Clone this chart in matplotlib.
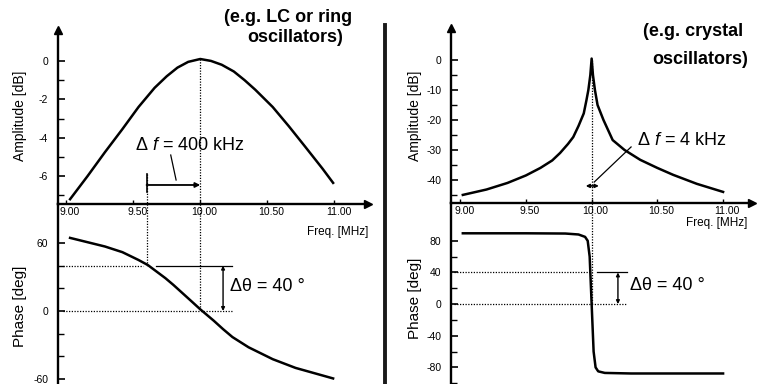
import matplotlib
matplotlib.use('Agg')
import matplotlib.pyplot as plt
from matplotlib.transforms import ScaledTranslation

plt.rcParams['font.family'] = ['Liberation Sans', 'DejaVu Sans']
plt.rcParams['mathtext.fontset'] = 'custom'
plt.rcParams['mathtext.rm'] = 'Liberation Sans'
plt.rcParams['mathtext.it'] = 'Liberation Sans:italic'

# ---------------- data ----------------
freq_ticks = [9.0, 9.5, 10.0, 10.5, 11.0]
freq_tick_labels = ['9.00', '9.50', '10.00', '10.50', '11.00']

# LC / ring oscillator (low Q)
lc_freq = [9.03, 9.16, 9.29, 9.42, 9.54, 9.66, 9.75, 9.83, 9.91, 10.00,
           10.08, 10.16, 10.25, 10.33, 10.41, 10.54, 10.66, 10.78, 10.91, 10.99]
lc_amp = [-7.2, -6.0, -4.75, -3.55, -2.4, -1.4, -0.8, -0.35, -0.05, 0.1,
          0.0, -0.2, -0.55, -1.0, -1.5, -2.4, -3.4, -4.45, -5.6, -6.35]
lc_phase_freq = [9.03, 9.16, 9.29, 9.42, 9.54, 9.61, 9.74, 9.80, 9.87, 9.94,
                 10.00, 10.05, 10.10, 10.17, 10.24, 10.36, 10.54, 10.71, 10.99]
lc_phase = [64.5, 60.7, 56.9, 51.9, 45.0, 40.5, 29.0, 23.0, 15.5, 8.0,
            1.5, -3.5, -8.5, -16.0, -23.0, -32.0, -42.5, -50.2, -59.5]
lc_amp_ticks = [0, -2, -4, -6]
lc_amp_minor = [-1, -3, -5, -7]
lc_phase_ticks = [60, 0, -60]
lc_phase_minor = [40, 20, -20, -40]

# crystal oscillator (high Q)
xt_freq = [9.02, 9.20, 9.36, 9.50, 9.61, 9.70, 9.76, 9.82, 9.86, 9.90,
           9.94, 9.96, 9.975, 9.99, 10.00, 10.01, 10.025, 10.045, 10.09,
           10.16, 10.25, 10.37, 10.50, 10.62, 10.80, 11.00]
xt_amp = [-45.0, -43.2, -41.0, -38.5, -36.0, -33.5, -31.0, -28.0, -25.7, -22.0,
          -17.8, -13.5, -10.0, -5.0, 0.5, -5.0, -10.0, -15.0, -20.0,
          -26.7, -30.0, -33.3, -36.0, -38.3, -41.3, -44.0]
xt_phase_freq = [9.02, 9.50, 9.80, 9.90, 9.95, 9.97, 9.985, 9.995, 10.0,
                 10.005, 10.015, 10.03, 10.05, 10.10, 10.30, 11.00]
xt_phase = [89.5, 89.5, 89.2, 88.0, 85.0, 80.0, 60.0, 20.0, 0.0,
            -20.0, -60.0, -80.0, -85.0, -87.0, -87.7, -87.7]
xt_amp_ticks = [0, -10, -20, -30, -40]
xt_amp_minor = [-5, -15, -25, -35, -45]
xt_phase_ticks = [80, 40, 0, -40, -80]
xt_phase_minor = [60, 20, -20, -60, -100]

# ---------------- figure ----------------
W, H = 757, 384
fig = plt.figure(figsize=(W / 100, H / 100), dpi=100)


def rect(x0, y0, x1, y1):
    return [x0 / W, 1 - y1 / H, (x1 - x0) / W, (y1 - y0) / H]


def base(ax, xlim, ylim, majors, minors, show_x):
    ax.set_xlim(*xlim)
    ax.set_ylim(*ylim)
    ax.patch.set_alpha(0)
    for s in ['top', 'right']:
        ax.spines[s].set_visible(False)
    ax.spines['left'].set_linewidth(1.7)
    ax.set_yticks(majors)
    ax.set_yticklabels([str(v) for v in majors])
    ax.set_yticks(minors, minor=True)
    ax.tick_params(axis='y', which='major', direction='in', length=5, width=1.2,
                   labelsize=7.5, pad=7)
    ax.tick_params(axis='y', which='minor', direction='in', length=4, width=1.0)
    if show_x:
        ax.spines['bottom'].set_linewidth(1.7)
        ax.set_xticks(freq_ticks)
        ax.set_xticklabels(freq_tick_labels)
        ax.tick_params(axis='x', which='major', direction='in', length=3,
                       width=1.0, labelsize=7.5, pad=2)
        for lab in ax.get_xticklabels():
            lab.set_transform(lab.get_transform() +
                              ScaledTranslation(4 / 100, 0, fig.dpi_scale_trans))
        ax.plot([xlim[1]], [ylim[0]], marker='>', ms=6, color='black',
                clip_on=False)
        ax.plot([xlim[0]], [ylim[1]], marker='^', ms=6, color='black',
                clip_on=False)
    else:
        ax.spines['bottom'].set_visible(False)
        ax.set_xticks([])


dot = dict(color='black', lw=0.9, ls=(0, (1, 1.2)))
curve = dict(color='black', lw=1.8, solid_joinstyle='round')

# ---- left: LC ----
axA = fig.add_axes(rect(58, 30, 368, 204))
base(axA, (8.94, 11.25), (-7.45, 1.61), lc_amp_ticks, lc_amp_minor, True)
axA.plot(lc_freq, lc_amp, **curve)
axA.plot([10.0, 10.0], [0.1, -7.45], **dot)
axA.plot([9.6, 9.6], [-5.9, -7.45], **dot)
axA.plot([9.6, 9.6], [-5.9, -6.8], color='black', lw=1.2)
axA.annotate('', xy=(10.0, -6.46), xytext=(9.6, -6.46),
             arrowprops=dict(arrowstyle='-|>', color='black', lw=1.3,
                             mutation_scale=7, shrinkA=0, shrinkB=0))
axA.plot([9.78, 9.82], [-4.9, -6.2], color='black', lw=0.9)
axA.text(9.925, -4.39, r'Δ $f$ = 400 kHz', fontsize=13, ha='center',
         va='center')

axP = fig.add_axes(rect(58, 204, 368, 384))
base(axP, (8.94, 11.25), (-64.4, 94.4), lc_phase_ticks, lc_phase_minor, False)
axP.plot(lc_phase_freq, lc_phase, **curve)
axP.plot([10.0, 10.0], [94.4, 0.0], **dot)
axP.plot([9.6, 9.6], [94.4, 40.0], **dot)
axP.plot([8.98, 9.57], [40, 40], **dot)
axP.plot([9.67, 10.24], [40, 40], color='black', lw=0.9)
axP.plot([8.98, 10.24], [0, 0], **dot)
axP.annotate('', xy=(10.17, 40), xytext=(10.17, 0),
             arrowprops=dict(arrowstyle='<|-|>', color='black', lw=1.0,
                             mutation_scale=5, shrinkA=0, shrinkB=0))
axP.text(10.22, 22, 'Δθ = 40 °', fontsize=13, ha='left', va='center')

fig.text(20 / W, 1 - 116 / H, 'Amplitude [dB]', rotation=90, fontsize=10,
         ha='center', va='center')
fig.text(20 / W, 1 - 306 / H, 'Phase [deg]', rotation=90, fontsize=11,
         ha='center', va='center')
fig.text(368 / W, 1 - 232 / H, 'Freq. [MHz]', fontsize=8.5, ha='right',
         va='center')
fig.text(352 / W, 1 - 18 / H, '(e.g. LC or ring', fontsize=13,
         fontweight='bold', ha='right', va='center')
fig.text(343 / W, 1 - 37 / H, 'oscillators)', fontsize=13,
         fontweight='bold', ha='right', va='center')

# ---- separator ----
fig.add_artist(plt.Line2D([385 / W, 385 / W], [1 - 25 / H, 0], color='#1a1a1a',
                          lw=2.8, transform=fig.transFigure))

# ---- right: crystal ----
axB = fig.add_axes(rect(451, 28, 752, 203))
base(axB, (8.93, 11.22), (-47.7, 10.7), xt_amp_ticks, xt_amp_minor, True)
axB.plot(xt_freq, xt_amp, **curve)
axB.plot([10.0, 10.0], [0.0, -47.7], **dot)
axB.annotate('', xy=(9.955, -42.0), xytext=(10.055, -42.0),
             arrowprops=dict(arrowstyle='<|-|>', color='black', lw=1.2,
                             mutation_scale=5, shrinkA=0, shrinkB=0))
axB.plot([10.30, 10.02], [-29.0, -40.7], color='black', lw=0.9)
axB.text(10.345, -26.7, r'Δ $f$ = 4 kHz', fontsize=13, ha='left', va='center')

axQ = fig.add_axes(rect(451, 203, 752, 384))
base(axQ, (8.93, 11.22), (-101, 127.8), xt_phase_ticks, xt_phase_minor, False)
axQ.plot(xt_phase_freq, xt_phase, **curve)
axQ.plot([10.0, 10.0], [127.8, 0.0], **dot)
axQ.plot([8.95, 10.0], [40, 40], **dot)
axQ.plot([10.04, 10.27], [40, 40], color='black', lw=0.9)
axQ.plot([8.95, 10.27], [0, 0], **dot)
axQ.annotate('', xy=(10.20, 40), xytext=(10.20, 0),
             arrowprops=dict(arrowstyle='<|-|>', color='black', lw=1.0,
                             mutation_scale=5, shrinkA=0, shrinkB=0))
axQ.text(10.29, 24, 'Δθ = 40 °', fontsize=13, ha='left', va='center')

fig.text(415 / W, 1 - 116 / H, 'Amplitude [dB]', rotation=90, fontsize=10,
         ha='center', va='center')
fig.text(415 / W, 1 - 298 / H, 'Phase [deg]', rotation=90, fontsize=11,
         ha='center', va='center')
fig.text(686 / W, 1 - 223 / H, 'Freq. [MHz]', fontsize=8.5, ha='left',
         va='center')
fig.text(743 / W, 1 - 32 / H, '(e.g. crystal', fontsize=13,
         fontweight='bold', ha='right', va='center')
fig.text(748 / W, 1 - 60 / H, 'oscillators)', fontsize=13,
         fontweight='bold', ha='right', va='center')

fig.savefig('out.png', dpi=100)
